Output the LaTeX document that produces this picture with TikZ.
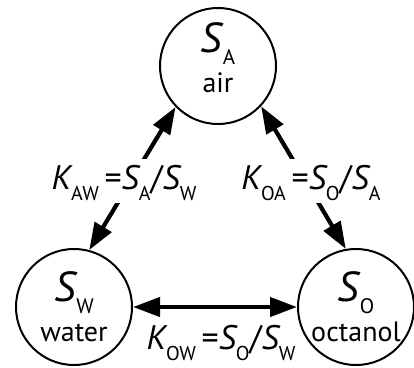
\documentclass[tikz,border=0pt]{standalone}
\usepackage{fontspec}
\setmainfont{PT Sans}
\usetikzlibrary{arrows.meta,positioning}

% solubility symbol inside a phase circle, and in the ratio labels
\newcommand{\phasesym}[2]{{\fontsize{42}{42}\selectfont\itshape #1}\kern1pt\raisebox{-12pt}{\fontsize{21}{21}\selectfont #2}}
\newcommand{\ratiosym}[2]{{\itshape #1}\raisebox{-11pt}{\fontsize{20}{20}\selectfont #2}}

\begin{document}
\begin{tikzpicture}[x=1pt,y=1pt,
  phase/.style={draw,circle,line width=2pt,minimum size=116pt,inner sep=0pt,align=center,font=\fontsize{28}{40}\selectfont},
  exch/.style={line width=4.2pt,{Triangle[length=27pt,width=19pt]}-{Triangle[length=27pt,width=19pt]}},
  ratio/.style={fill=white,inner xsep=2pt,inner ysep=4pt,text height=26pt,text depth=10pt,font=\fontsize{34}{34}\selectfont}]
\useasboundingbox (0,0) rectangle (414,-367);
\node[phase,text depth=16pt] (air) at (218,-66) {\phasesym{S}{A}\\air};
\node[phase] (water) at (74,-307) {\phasesym{S}{W}\\water};
\node[phase] (octanol) at (356,-307) {\phasesym{S}{O}\\octanol};
\draw[exch] (air.224) -- (water.75);
\draw[exch] (air.317) -- (octanol.100);
\draw[exch] (water.east) -- (octanol.west);
\node[ratio] (kaw) at (124,-181) {\ratiosym{K}{AW}\,=\ratiosym{S}{A}/\ratiosym{S}{W}};
\node[ratio] (koa) at (311,-181) {\ratiosym{K}{OA}\,=\ratiosym{S}{O}/\ratiosym{S}{A}};
\node[ratio,fill=none] (kow) at (221,-341) {\ratiosym{K}{OW}\,=\ratiosym{S}{O}/\ratiosym{S}{W}};
\end{tikzpicture}
\end{document}
